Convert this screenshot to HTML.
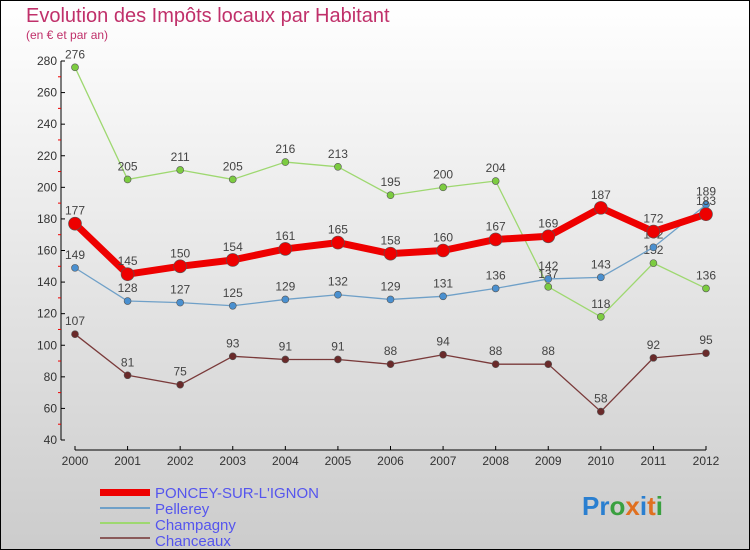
<!DOCTYPE html>
<html><head><meta charset="utf-8"><style>
body{margin:0;width:750px;height:550px;overflow:hidden;font-family:"Liberation Sans",sans-serif}
svg{display:block}
</style></head><body>
<svg id="c" width="750" height="550">
<defs><linearGradient id="bg" x1="0" y1="0" x2="0" y2="1"><stop offset="0" stop-color="#ffffff"/><stop offset="1" stop-color="#cccccc"/></linearGradient></defs>
<rect x="0.5" y="0.5" width="749" height="549" fill="url(#bg)" stroke="#000"/>
<text x="26" y="22" font-size="20" fill="#c0306a">Evolution des Impôts locaux par Habitant</text>
<text x="26" y="39" font-size="12" fill="#c0306a">(en € et par an)</text>
<g id="axes"></g><g id="series"></g>
<g>
<rect x="100" y="489" width="50" height="7" fill="#e00"/>
<text x="155" y="498" font-size="15" fill="#5555ee">PONCEY-SUR-L'IGNON</text>
<rect x="100" y="507" width="50" height="2" fill="#6fa0c8"/>
<text x="155" y="514" font-size="15" fill="#5555ee">Pellerey</text>
<rect x="100" y="522" width="50" height="2" fill="#9ed870"/>
<text x="155" y="530" font-size="15" fill="#5555ee">Champagny</text>
<rect x="100" y="537" width="50" height="2" fill="#8a5a5a"/>
<text x="155" y="546" font-size="15" fill="#5555ee">Chanceaux</text>
</g>
<text x="582" y="515" font-size="26" font-weight="bold"><tspan fill="#2a7fd0">Pr</tspan><tspan fill="#3aa040">o</tspan><tspan fill="#e07020">x</tspan><tspan fill="#2a7fd0">i</tspan><tspan fill="#e07020">t</tspan><tspan fill="#3aa040">i</tspan></text>
</svg>
<script>
const years=[2000,2001,2002,2003,2004,2005,2006,2007,2008,2009,2010,2011,2012];
const yTicks=[40,60,80,100,120,140,160,180,200,220,240,260,280];
const poncey=[177,145,150,154,161,165,158,160,167,169,187,172,183];
const pellerey=[149,128,127,125,129,132,129,131,136,142,143,162,189];
const champagny=[276,205,211,205,216,213,195,200,204,137,118,152,136];
const chanceaux=[107,81,75,93,91,91,88,94,88,88,58,92,95];
const NS="http://www.w3.org/2000/svg";
const xS=i=>75+i*(706-75)/12;
const yS=v=>440-(v-40)*379/240;
function mk(tag,at,parent){const e=document.createElementNS(NS,tag);for(const k in at)e.setAttribute(k,at[k]);parent.appendChild(e);return e;}
const ax=document.getElementById('axes');
let l=mk('line',{x1:61,y1:yS(280),x2:61,y2:440,stroke:'#000'},ax);


l=mk('line',{x1:xS(0),y1:450,x2:xS(12),y2:450,stroke:'#000'},ax);


yTicks.forEach((t,i)=>{
 const y=yS(t);
 mk('line',{x1:61,y1:y,x2:65,y2:y,stroke:'#000'},ax);
 if(i<yTicks.length-1) mk('line',{x1:58,y1:y-15.8,x2:61,y2:y-15.8,stroke:'#e00'},ax);
 const tx=mk('text',{x:57,y:y+4,'font-size':12,'text-anchor':'end',fill:'#333'},ax);
 tx.textContent=t;
 
 
});
years.forEach((yr,i)=>{
 const x=xS(i);
 mk('line',{x1:x,y1:446,x2:x,y2:450,stroke:'#000'},ax);
 const tx=mk('text',{x:x,y:465,'font-size':12,'text-anchor':'middle',fill:'#333'},ax);
 tx.textContent=yr;
 
 
});
const sg=document.getElementById('series');
function draw(data,color,fill,w,r,name){
 const g=mk('g',{},sg);
 
 
 const p=mk('polyline',{points:data.map((v,i)=>xS(i)+','+yS(v)).join(' '),fill:'none',stroke:color,'stroke-width':w,'stroke-linejoin':'round'},g);
 
 
 data.forEach((v,i)=>{
  const c=mk('circle',{cx:xS(i),cy:yS(v),r:r,fill:fill,stroke:'#555','stroke-width':0.6},g);
  
  
  const t=mk('text',{x:xS(i),y:yS(v)-9,'font-size':12,'text-anchor':'middle',fill:'#444'},g);
  t.textContent=v;
  
  
 });
}
draw(chanceaux,'#7a3a3a','#6a2a2a',1.3,3.5,'chanceaux');
draw(champagny,'#9ed870','#7ccc40',1.3,3.5,'champagny');
draw(pellerey,'#6fa0c8','#4a90d0',1.3,3.5,'pellerey');
draw(poncey,'#ee0000','#ee0000',7,6.5,'poncey');
</script>
</body></html>
